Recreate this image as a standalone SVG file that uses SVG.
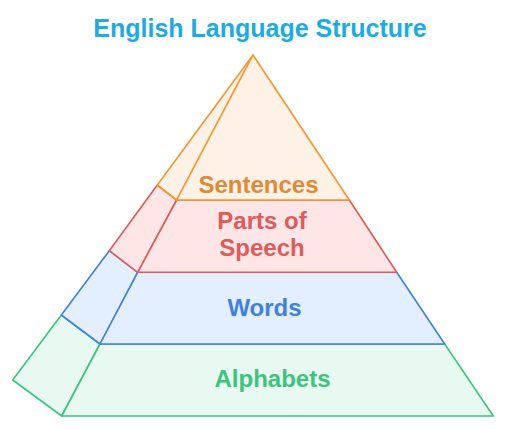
<svg xmlns="http://www.w3.org/2000/svg" width="506" height="429" viewBox="0 0 506 429">
<style>
text{font-family:"Liberation Sans",Arial,sans-serif;font-weight:bold;text-anchor:middle}
.t{font-size:25px;fill:#1AADE4}
.l{font-size:24px}
polygon{stroke-width:1.6;stroke-linejoin:round}
.o{fill:#FEF1E5;stroke:#F7962E}
.r{fill:#FFE6E6;stroke:#E05A5A}
.b{fill:#E3EEFE;stroke:#3F80E0}
.g{fill:#E8F9F1;stroke:#3CC47E}
</style>
<rect width="506" height="429" fill="#fff"/>
<text class="t" x="260" y="37">English Language Structure</text>
<g id="alphabets">
<polygon class="g" points="12.7,380 61.3,315 100,344 61.7,416"/>
<polygon class="g" points="100,344 444.7,344 493.3,416 61.7,416"/>
<text class="l" x="272.5" y="387" fill="#3CC47E">Alphabets</text>
</g>
<g id="words">
<polygon class="b" points="61.3,315 109.3,250.7 137.7,272.3 100,344"/>
<polygon class="b" points="137.7,272.3 396.7,272.3 444.7,344 100,344"/>
<text class="l" x="264.5" y="316" fill="#3F80E0">Words</text>
</g>
<g id="parts-of-speech">
<polygon class="r" points="109.3,250.7 157.3,185 176.7,200 137.7,272.3"/>
<polygon class="r" points="176.7,200 349.3,200 396.7,272.3 137.7,272.3"/>
<text class="l" x="262" y="228.5" fill="#E05A5A">Parts of</text>
<text class="l" x="262" y="256" fill="#E05A5A">Speech</text>
</g>
<g id="sentences">
<polygon class="o" points="253,55 157.3,185 176.7,200"/>
<polygon class="o" points="253,55 349.3,200 176.7,200"/>
<text class="l" x="258.5" y="192.5" fill="#DF8A35">Sentences</text>
</g>
<g id="connectors"></g>
</svg>
